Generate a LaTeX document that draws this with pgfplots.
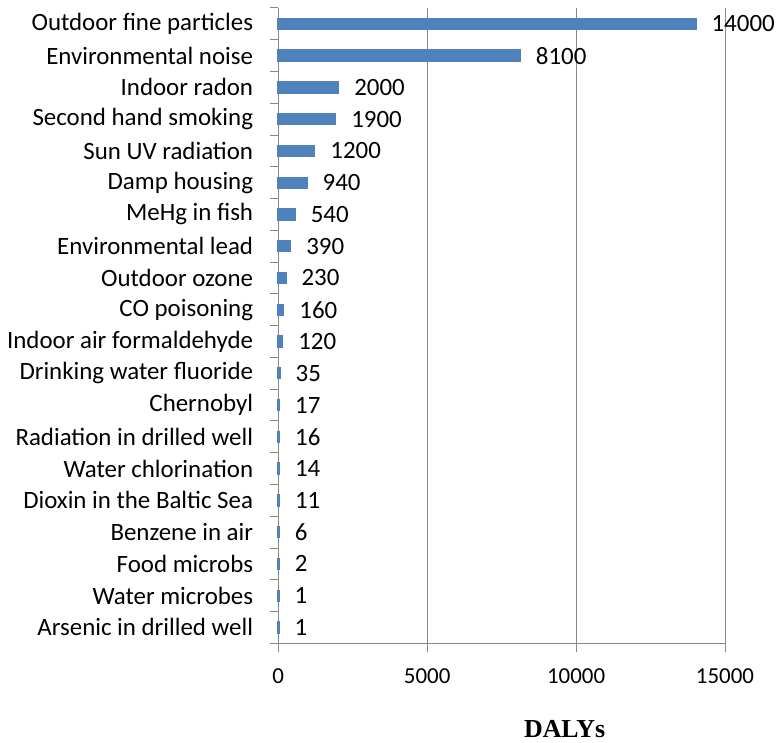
\documentclass[border=0pt]{standalone}
\usepackage{pgfplots}
\pgfplotsset{compat=1.18}
\usepackage{fontspec}
\setmainfont{Carlito}
\newfontfamily\serifbold{Liberation Serif}
\definecolor{barblue}{HTML}{4F81BD}
\definecolor{axgray}{HTML}{888888}

\begin{document}
\begin{tikzpicture}
% page frame
\path (-278.3bp,-99.7bp) rectangle (502.7bp,643.3bp);
\begin{axis}[
  at={(0,0)}, anchor=south west,
  scale only axis, width=446.7bp, height=635.3bp,
  xbar, bar width=9.5bp,
  xmin=0, xmax=15000, ymin=-0.5, ymax=19.5,
  clip=false,
  scaled x ticks=false,
  axis x line*=bottom, axis y line*=left,
  axis line style={axgray, line width=1bp},
  xtick={0,5000,10000,15000},
  xticklabels={0,5000,10000,15000},
  xmajorgrids, grid style={axgray, line width=1bp},
  tick align=outside, major tick length=8.5bp,
  tick style={axgray, line width=1bp},
  xticklabel style={font=\fontsize{23}{28}\selectfont, text=black, inner sep=0pt, anchor=north, yshift=-17bp},
  ytick={-0.5,0.5,...,19.5}, yticklabels={},
  extra y ticks={0,1,...,19},
  extra y tick labels={Arsenic in drilled well, Water microbes, Food microbs, Benzene in air, Dioxin in the Baltic Sea, Water chlorination, Radiation in drilled well, Chernobyl, Drinking water fluoride, Indoor air formaldehyde, CO poisoning, Outdoor ozone, Environmental lead, MeHg in fish, Damp housing, Sun UV radiation, Second hand smoking, Indoor radon, Environmental noise, Outdoor fine particles},
  extra y tick style={major tick length=0pt,
    yticklabel style={font=\fontsize{25}{30}\selectfont, text=black, inner sep=0pt, anchor=east, xshift=-25bp}},
  point meta=explicit symbolic,
  nodes near coords,
  every node near coord/.append style={anchor=west, inner sep=0pt, xshift=15bp, font=\fontsize{25}{30}\selectfont, text=black},
]
\addplot[fill=barblue, draw=barblue, line width=2.8bp] coordinates {
  (1,0) [1]
  (1,1) [1]
  (2,2) [2]
  (6,3) [6]
  (11,4) [11]
  (14,5) [14]
  (16,6) [16]
  (17,7) [17]
  (35,8) [35]
  (120,9) [120]
  (160,10) [160]
  (230,11) [230]
  (390,12) [390]
  (540,13) [540]
  (940,14) [940]
  (1200,15) [1200]
  (1900,16) [1900]
  (2000,17) [2000]
  (8100,18) [8100]
  (14000,19) [14000]
};
\node[font=\serifbold\bfseries\fontsize{26}{30}\selectfont, text=black] at (rel axis cs:0.641,-0.1349) {DALYs};
\end{axis}
\end{tikzpicture}
\end{document}
